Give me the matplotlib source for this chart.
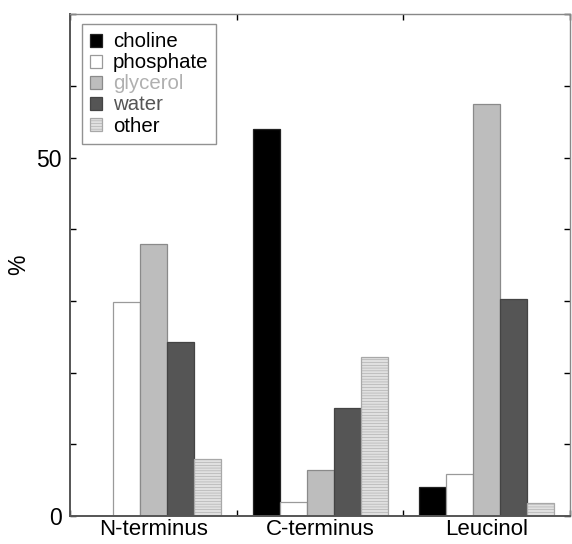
import numpy as np
import matplotlib
matplotlib.use('Agg')
import matplotlib.pyplot as plt
from matplotlib.ticker import MultipleLocator

# data (%)
groups     = ['N-terminus', 'C-terminus', 'Leucinol']
components = ['choline', 'phosphate', 'glycerol', 'water', 'other']
choline    = [0.0, 54.0, 4.1]
phosphate  = [29.9, 2.0, 5.9]
glycerol   = [38.0, 6.4, 57.5]
water      = [24.2, 15.1, 30.3]
other      = [7.9, 22.2, 1.8]

values     = [choline, phosphate, glycerol, water, other]
faces      = ['#000000', '#ffffff', '#bdbdbd', '#555555', '#e0e0e0']
edges      = ['#222222', '#9a9a9a', '#8a8a8a', '#444444', '#a8a8a8']
hatches    = [None, None, None, None, '------']
text_cols  = ['#000000', '#000000', '#b0b0b0', '#555555', '#000000']

plt.rcParams['font.family'] = ['Liberation Sans', 'DejaVu Sans']
plt.rcParams['hatch.color'] = '#d4d4d4'
plt.rcParams['hatch.linewidth'] = 0.4

fig = plt.figure(figsize=(5.72, 5.44), dpi=100)
ax = fig.add_axes([0.1224, 0.0515, 0.8741, 0.9225])

width = 0.162
x = np.arange(len(groups)) + 0.5
for i, (vals, fc, ec, h) in enumerate(zip(values, faces, edges, hatches)):
    ax.bar(x + (i - 2) * width, vals, width, color=fc, edgecolor=ec,
           linewidth=0.9, hatch=h, label=components[i])

ax.set_xlim(0, 3)
ax.set_ylim(0, 70)
ax.set_xticks(x)
ax.set_xticklabels(groups, fontsize=16)
ax.xaxis.set_minor_locator(MultipleLocator(1))
ax.tick_params(axis='x', which='major', length=0, pad=2)
ax.tick_params(axis='x', which='minor', direction='in', length=4,
               top=True, bottom=True, width=1)
ax.set_yticks([0, 50])
ax.yaxis.set_minor_locator(MultipleLocator(10))
ax.tick_params(axis='y', which='both', direction='in', length=4,
               left=True, right=True, labelsize=16.5, width=1, pad=6)
ax.set_ylabel('%', fontsize=16.5)
ax.yaxis.set_label_coords(-0.08, 0.5)

for side in ['left', 'bottom']:
    ax.spines[side].set_color('#555555')
    ax.spines[side].set_linewidth(1.4)
for side in ['top', 'right']:
    ax.spines[side].set_color('#888888')
    ax.spines[side].set_linewidth(1.0)

leg = ax.legend(loc='upper left', bbox_to_anchor=(0.024, 0.98), borderaxespad=0,
                fontsize=14.7, frameon=True, fancybox=False, edgecolor='#777777',
                handlelength=0.6, handleheight=0.6, handletextpad=0.5,
                labelspacing=0.1, borderpad=0.4)
leg.get_frame().set_linewidth(1.0)
for t, c in zip(leg.get_texts(), text_cols):
    t.set_color(c)

fig.savefig('out.png', dpi=100)
